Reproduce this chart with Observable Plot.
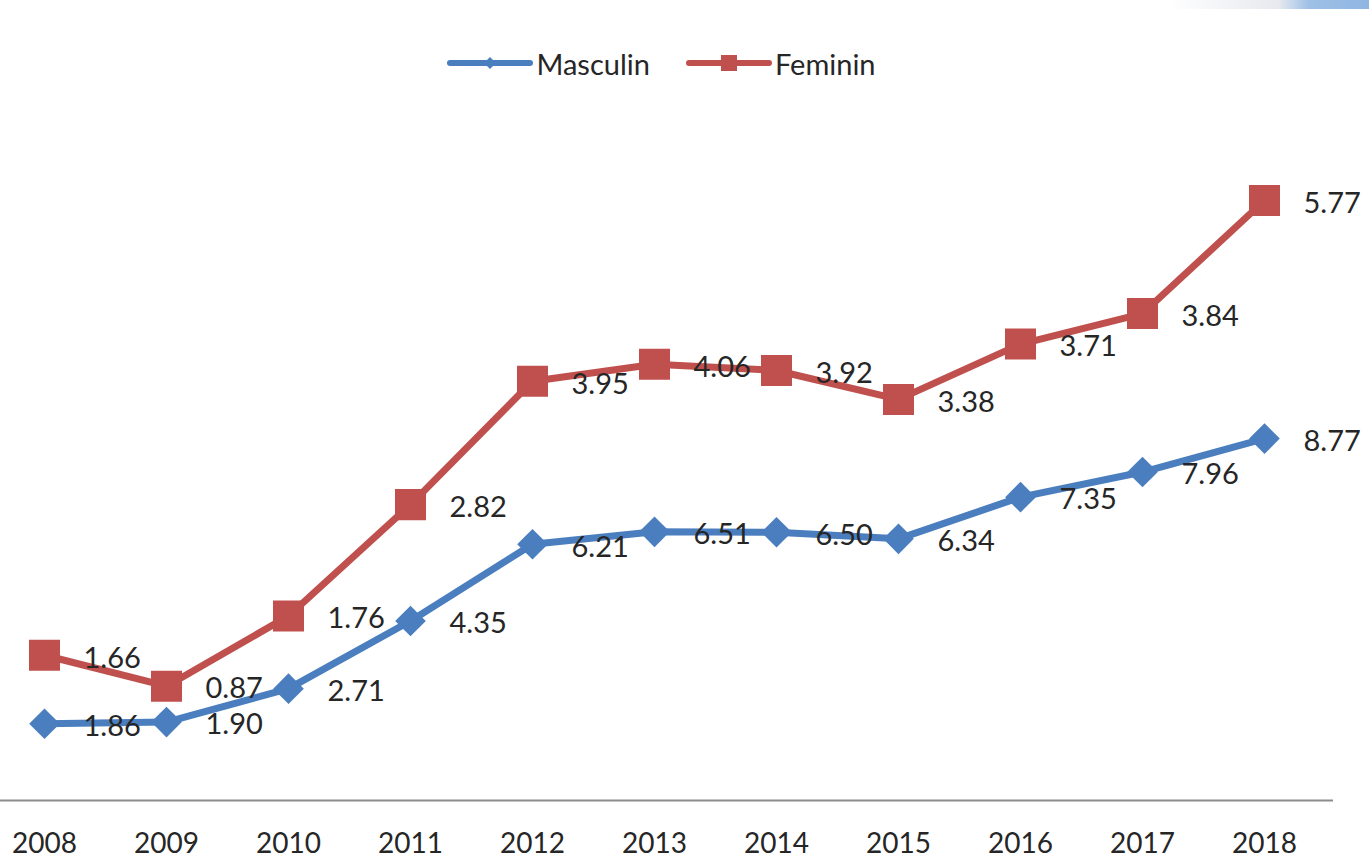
<!DOCTYPE html>
<html>
<head>
<meta charset="utf-8">
<script src="https://cdn.jsdelivr.net/npm/d3@7"></script>
<script src="https://cdn.jsdelivr.net/npm/@observablehq/plot@0.6"></script>
<style>
  html, body { margin: 0; padding: 0; background: #fff; width: 1369px; height: 859px; overflow: hidden; }
  body { font-family: Lato, "Open Sans", sans-serif; position: relative; }
  #corner { position: absolute; top: 0; right: 0; width: 200px; height: 9px;
    background: linear-gradient(to right, rgba(255,255,255,0), #e6e9ee 55%, #9ec0e6 70%, #8fb6e2 100%); }
  #legend { height: 110px; display: flex; justify-content: center; align-items: center; padding-top: 16px; padding-right: 46px; box-sizing: border-box; color: #262626; font-size: 29px; }
  .item { display: flex; align-items: center; margin-right: 36px; }
  .item:last-child { margin-right: 0; }
  .item svg { margin-right: 3px; }
</style>
</head>
<body>
<div id="corner"></div>
<div id="legend"></div>
<div id="chart"></div>
<script>
const years = ["2008","2009","2010","2011","2012","2013","2014","2015","2016","2017","2018"];
const masculin = [1.86, 1.90, 2.71, 4.35, 6.21, 6.51, 6.50, 6.34, 7.35, 7.96, 8.77];
const feminin  = [1.66, 0.87, 1.76, 2.82, 3.95, 4.06, 3.92, 3.38, 3.71, 3.84, 5.77];
const seriesNames = ["Masculin", "Feminin"];
const seriesColors = ["#4A7EBF", "#C0504D"];
const seriesSymbols = ["diamond2", "square"];
const seriesMarkerR = [13.8, 17.5];

const data = [];
[masculin, feminin].forEach((vals, i) => {
  vals.forEach((v, j) => data.push({year: years[j], value: v, series: seriesNames[i], r: seriesMarkerR[i]}));
});

// Legend
const legend = document.getElementById("legend");
seriesNames.forEach((name, i) => {
  const item = document.createElement("div");
  item.className = "item";
  const sym = i === 0
    ? `<path d="M43,5 L49,11 L43,17 L37,11 Z" fill="${seriesColors[i]}"/>`
    : `<rect x="35" y="3" width="16" height="16" fill="${seriesColors[i]}"/>`;
  item.innerHTML = `<svg width="86" height="22"><line x1="3" x2="83" y1="11" y2="11" stroke="${seriesColors[i]}" stroke-width="6" stroke-linecap="round"/>${sym}</svg><span>${name}</span>`;
  legend.appendChild(item);
});

const stackOpts = {x: "year", y: "value", z: "series"};

const chart = Plot.plot({
  width: 1369,
  height: 749,
  marginLeft: 40,
  marginRight: 101,
  marginTop: 71,
  marginBottom: 59,
  style: {fontFamily: "Lato, 'Open Sans', sans-serif", fontSize: "28px", color: "#262626", background: "transparent"},
  x: {type: "point", domain: years, padding: 0, label: null, tickSize: 0, tickPadding: 33},
  y: {domain: [0, 15], axis: null},
  r: {type: "identity"},
  color: {domain: seriesNames, range: seriesColors},
  symbol: {domain: seriesNames, range: seriesSymbols},
  marks: [
    Plot.ruleY([0], {stroke: "#8c8c8c", strokeWidth: 2, insetLeft: -40, insetRight: -65}),
    Plot.line(data, Plot.stackY2({...stackOpts, stroke: "series", strokeWidth: 7, strokeLinejoin: "round"})),
    Plot.dot(data, Plot.stackY2({...stackOpts, fill: "series", symbol: "series", r: "r", stroke: "none"})),
    Plot.text(data, Plot.stackY2({...stackOpts, text: d => d.value.toFixed(2),
      textAnchor: "start", dx: 39, dy: 3, fill: "#262626", fontSize: 29}))
  ]
});
document.getElementById("chart").appendChild(chart);
</script>
</body>
</html>
